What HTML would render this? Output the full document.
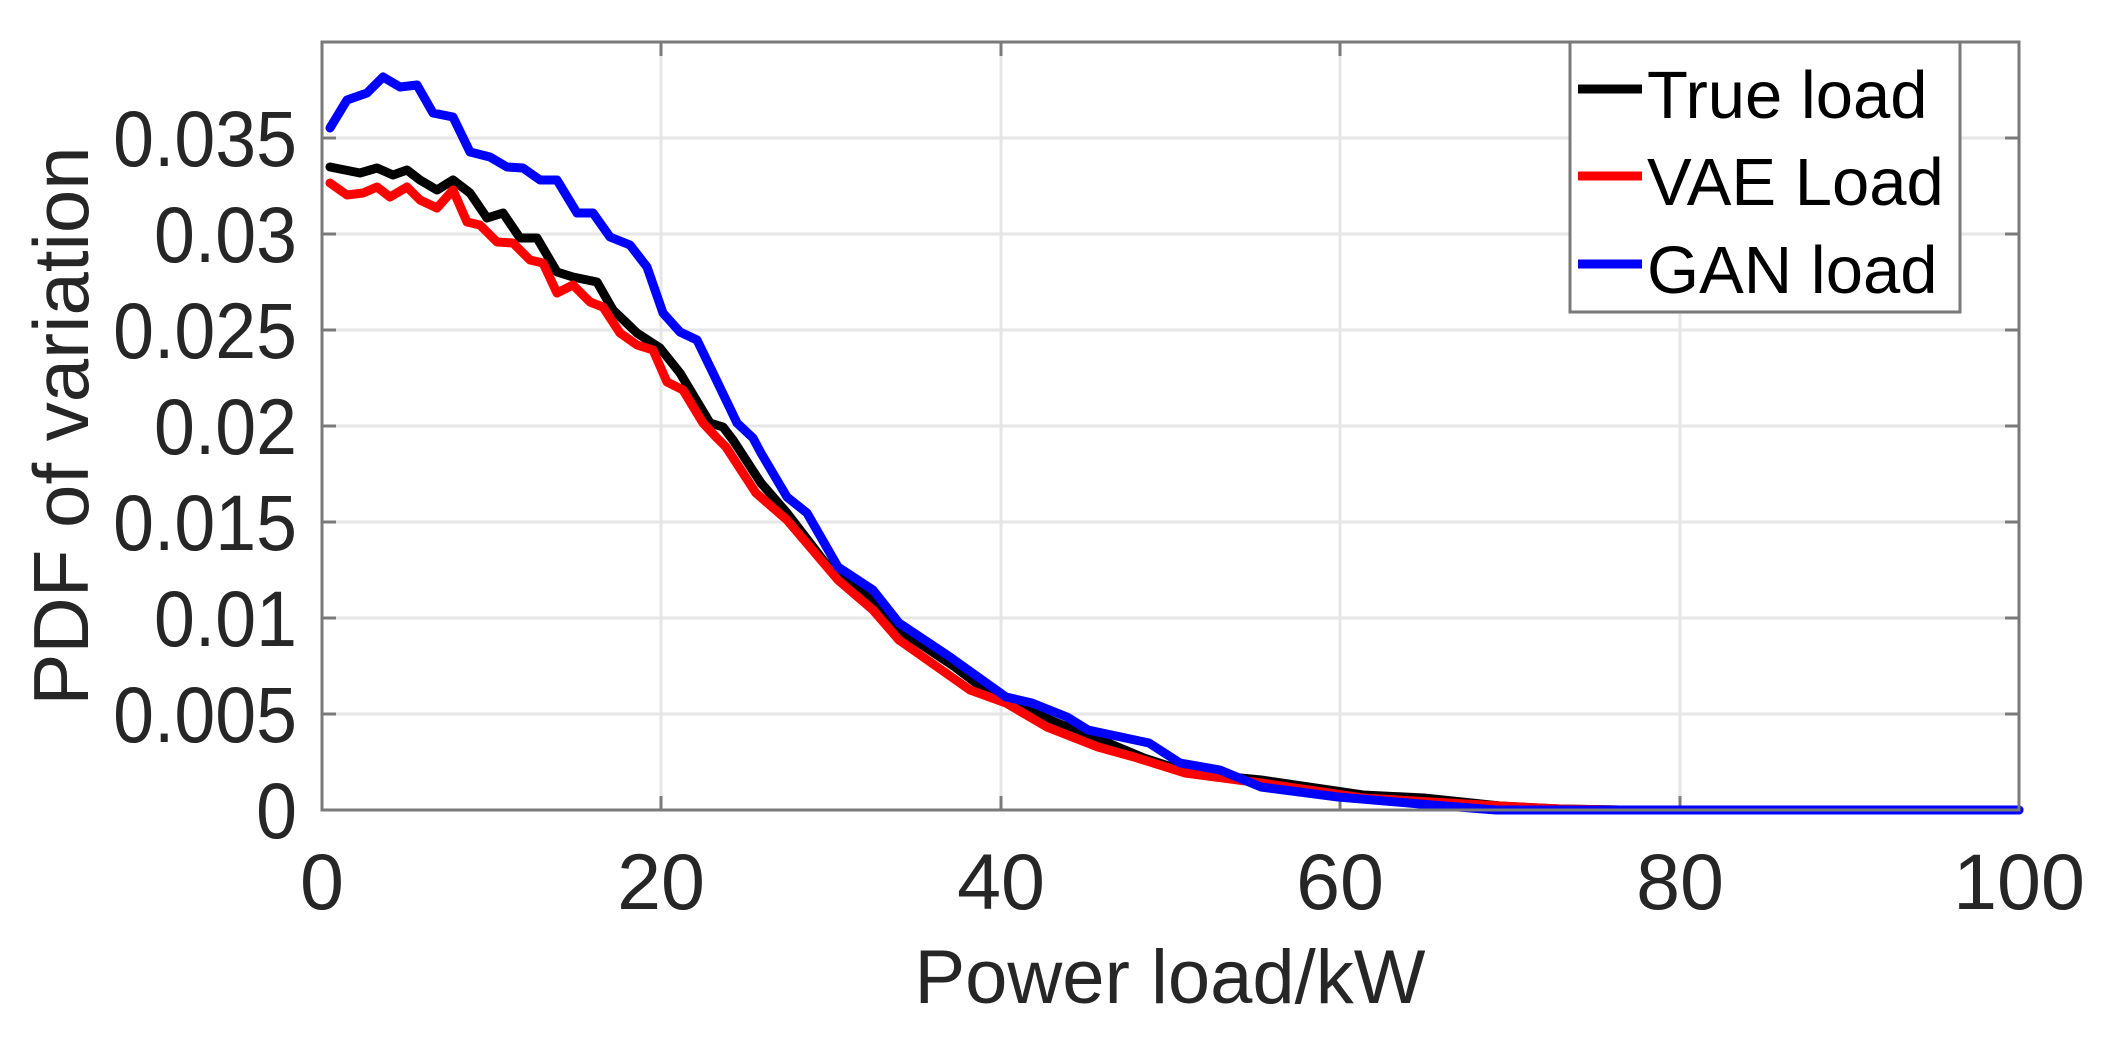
<!DOCTYPE html>
<html><head><meta charset="utf-8"><style>
html,body{margin:0;padding:0;background:#fff;}
svg{display:block;}
text{font-family:"Liberation Sans",Arial,sans-serif;fill:#262626;}
</style></head><body>
<svg width="2110" height="1040" viewBox="0 0 2110 1040" xmlns="http://www.w3.org/2000/svg">
<rect width="2110" height="1040" fill="#fff"/>
<g stroke="#e6e6e6" stroke-width="3">
<line x1="322" y1="714" x2="2019" y2="714"/>
<line x1="322" y1="618" x2="2019" y2="618"/>
<line x1="322" y1="522" x2="2019" y2="522"/>
<line x1="322" y1="426" x2="2019" y2="426"/>
<line x1="322" y1="330" x2="2019" y2="330"/>
<line x1="322" y1="234" x2="2019" y2="234"/>
<line x1="322" y1="138" x2="2019" y2="138"/>
<line x1="661" y1="42" x2="661" y2="810"/>
<line x1="1001" y1="42" x2="1001" y2="810"/>
<line x1="1340" y1="42" x2="1340" y2="810"/>
<line x1="1680" y1="42" x2="1680" y2="810"/>
</g>
<g stroke="#7a7a7a" stroke-width="3">
<line x1="322" y1="714" x2="336" y2="714"/><line x1="322" y1="618" x2="336" y2="618"/><line x1="322" y1="522" x2="336" y2="522"/><line x1="322" y1="426" x2="336" y2="426"/><line x1="322" y1="330" x2="336" y2="330"/><line x1="322" y1="234" x2="336" y2="234"/><line x1="322" y1="138" x2="336" y2="138"/>
<line x1="2005" y1="714" x2="2019" y2="714"/><line x1="2005" y1="618" x2="2019" y2="618"/><line x1="2005" y1="522" x2="2019" y2="522"/><line x1="2005" y1="426" x2="2019" y2="426"/><line x1="2005" y1="330" x2="2019" y2="330"/><line x1="2005" y1="234" x2="2019" y2="234"/><line x1="2005" y1="138" x2="2019" y2="138"/>
<line x1="661" y1="810" x2="661" y2="796"/><line x1="1001" y1="810" x2="1001" y2="796"/><line x1="1340" y1="810" x2="1340" y2="796"/><line x1="1680" y1="810" x2="1680" y2="796"/>
<line x1="661" y1="42" x2="661" y2="56"/><line x1="1001" y1="42" x2="1001" y2="56"/><line x1="1340" y1="42" x2="1340" y2="56"/><line x1="1680" y1="42" x2="1680" y2="56"/>
</g>
<g fill="none" stroke-width="9" stroke-linejoin="round" stroke-linecap="round">
<polyline stroke="#000" points="330,167 360,173 377,168 393,175 407,170 420,180 437,190 453,180 470,193 487,218 503,213 520,238 537,238 557,272 573,277 597,282 613,310 637,333 660,348 680,373 710,423 723,427 733,440 761,483 787,513 833,573 873,600 904,633 955,667 976,683 1006,700 1057,723 1108,743 1144,758 1190,773 1261,780 1363,795 1424,798 1500,806 1560,809 1620,810 2019,810"/>
<polyline stroke="#ff0000" points="330,183 347,195 363,193 377,187 390,197 407,187 420,200 437,208 453,190 467,222 480,225 497,242 513,243 530,260 543,263 557,293 573,285 590,302 603,307 620,333 637,345 653,350 667,382 683,390 703,423 717,438 726,447 756,493 787,520 838,580 873,610 899,640 970,690 1006,703 1047,727 1098,747 1134,757 1185,773 1261,783 1363,798 1500,806 1560,809 1620,810 2019,810"/>
<polyline stroke="#0000ff" points="330,128 347,100 367,93 383,77 400,87 417,85 433,113 453,117 470,152 490,157 507,167 523,168 540,180 557,180 577,213 593,213 610,237 630,245 647,267 663,313 680,332 697,340 713,373 737,423 753,438 761,453 787,497 807,513 838,567 873,590 899,623 950,657 1006,697 1032,703 1067,717 1088,730 1149,743 1180,763 1220,770 1261,787 1338,797 1420,804 1496,810 2019,810"/>
</g>
<rect x="322" y="42" width="1697" height="768" fill="none" stroke="#7a7a7a" stroke-width="3"/>
<rect x="1570" y="42" width="390" height="270" fill="#fff" stroke="#7a7a7a" stroke-width="3"/>
<line x1="1578" y1="89" x2="1642" y2="89" stroke="#000" stroke-width="9"/>
<line x1="1578" y1="176" x2="1642" y2="176" stroke="#ff0000" stroke-width="9"/>
<line x1="1578" y1="264" x2="1642" y2="264" stroke="#0000ff" stroke-width="9"/>
<g font-size="67">
<text x="1647" y="118" style="fill:#000">True load</text>
<text x="1647" y="205" style="fill:#000">VAE Load</text>
<text x="1647" y="293" style="fill:#000">GAN load</text>
</g>
<g font-size="79" text-anchor="end" transform="translate(297,0) scale(0.93,1) translate(-297,0)">
<text x="297" y="838">0</text>
<text x="297" y="742">0.005</text>
<text x="297" y="646">0.01</text>
<text x="297" y="550">0.015</text>
<text x="297" y="454">0.02</text>
<text x="297" y="358">0.025</text>
<text x="297" y="262">0.03</text>
<text x="297" y="166">0.035</text>
</g>
<g font-size="79" text-anchor="middle">
<text x="322" y="909">0</text>
<text x="661" y="909">20</text>
<text x="1001" y="909">40</text>
<text x="1340" y="909">60</text>
<text x="1680" y="909">80</text>
<text x="2019" y="909">100</text>
</g>
<text x="1170" y="1003" font-size="76" text-anchor="middle">Power load/kW</text>
<text transform="translate(88,426) rotate(-90)" font-size="78" text-anchor="middle">PDF of variation</text>
</svg>
</body></html>
